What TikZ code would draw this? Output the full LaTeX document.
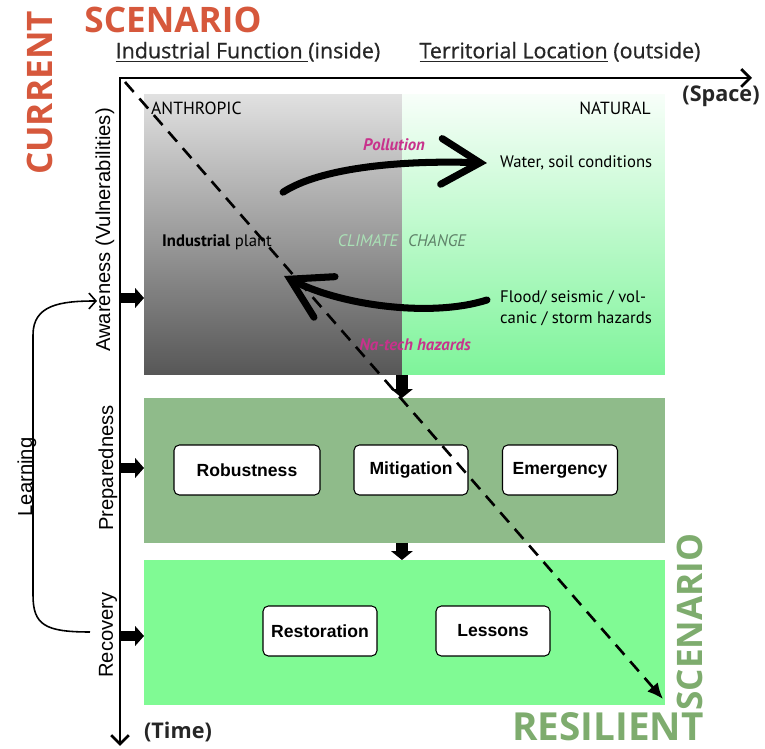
\documentclass[tikz,border=0pt]{standalone}
\usepackage{fontspec}
\setmainfont{Liberation Sans}
\newfontfamily\headfont{Open Sans}
\newfontfamily\semifont[FakeBold=0.7]{Open Sans}
\newfontfamily\innerfont{PT Sans}
\usepackage{xcolor}
\usetikzlibrary{arrows.meta}
\usetikzlibrary{positioning}
\definecolor{currentred}{RGB}{214,88,60}
\definecolor{resilgreen}{RGB}{126,172,110}
\definecolor{prepgreen}{RGB}{143,187,138}
\definecolor{recovgreen}{RGB}{128,250,148}
\definecolor{natgreen}{RGB}{126,244,154}
\definecolor{hazpink}{RGB}{200,50,140}
\definecolor{climlight}{RGB}{170,225,182}
\definecolor{climdark}{RGB}{95,130,105}

\begin{document}
\begin{tikzpicture}[x=0.02cm,y=-0.02cm,
  zone/.style={inner sep=0pt,outer sep=0pt,anchor=north west},
  box/.style={draw,rounded corners=3pt,fill=white,line width=0.6pt,
    minimum height=1cm,font=\bfseries\fontsize{10}{12}\selectfont},
  phase/.style={rotate=90,font=\fontsize{11.5}{13}\selectfont},
  inner/.style={font=\innerfont\fontsize{9.5}{12}\selectfont},
  head/.style={font=\headfont\bfseries\fontsize{20}{24}\selectfont},
  subhead/.style={font=\semifont\fontsize{12.2}{14}\selectfont,text=black!85},
  blockr/.style={line width=5.5pt,-{Triangle[length=5pt,width=11pt]}},
  blockd/.style={line width=7pt,-{Triangle[length=5pt,width=12pt]}},
  brush/.style={line width=4pt,line cap=round,
    -{Straight Barb[length=22pt,width=26pt,line cap=round]}}
]
\useasboundingbox (0,0) rectangle (765,749);

\node[zone,minimum width=5.16cm,minimum height=5.6cm,
  top color=black!12,bottom color=black!66] (anthro) at (144,95) {};
\node[zone,minimum width=5.26cm,minimum height=5.6cm,
  top color=natgreen!6,bottom color=natgreen] (natural) at (402,95) {};
\node[zone,minimum width=10.42cm,minimum height=2.9cm,fill=prepgreen] (prep) at (144,398) {};
\node[zone,minimum width=10.42cm,minimum height=2.9cm,fill=recovgreen] (recov) at (144,560) {};

\coordinate (origin) at (120,78);
\coordinate (spaceend) at (752,78);
\coordinate (timeend) at (120,746);
\draw[line width=1.6pt,{Straight Barb[length=5pt,width=10pt]}-{Straight Barb[length=5pt,width=10pt]}]
  (spaceend) -- (origin) -- (timeend);

\node[head,text=currentred,rotate=90] (current) at (40,93) {CURRENT};
\node[head,text=currentred] (scenario) at (173,20) {SCENARIO};
\node[subhead] (inside) at (248,52) {\underline{Industrial Function }(inside)};
\node[subhead] (outside) at (560,52) {\underline{Territorial Location} (outside)};
\node[subhead,font=\headfont\bfseries\fontsize{12.3}{14}\selectfont] (space) at (721,96) {(Space)};
\node[subhead,font=\headfont\bfseries\fontsize{12.3}{14}\selectfont] (time) at (178,732) {(Time)};
\node[head,text=resilgreen,font=\headfont\bfseries\fontsize{22}{26}\selectfont] (resilient) at (608,727) {RESILIENT};
\node[head,text=resilgreen,rotate=90] (scenario2) at (690,622) {SCENARIO};

\node[phase] (aware) at (105,230) {Awareness (Vulnerabilities)};
\node[phase] (prepared) at (108,468) {Preparedness};
\node[phase] (recovery) at (108,635) {Recovery};
\draw[blockr] (origin |- 0,298) -- (anthro.west |- 0,298);
\draw[blockr] (origin |- 0,468) -- (prep.west |- 0,468);
\draw[blockr] (origin |- 0,636) -- (recov.west |- 0,636);

\node[phase] (learning) at (27,477) {Learning};
\coordinate (learntop) at (97,301);
\coordinate (learnbot) at (90,632);
\draw[line width=0.9pt,-{Straight Barb[length=4pt,width=9pt]}]
  (learnbot) .. controls (45,632) and (33,625) .. (33,595) -- (33,335)
  .. controls (33,305) and (60,301) .. (learntop);

\node[inner,anchor=west,font=\innerfont\fontsize{10}{12}\selectfont] (anthropic) at (145,108) {ANTHROPIC};
\node[inner,anchor=east,font=\innerfont\fontsize{10}{12}\selectfont] (naturallbl) at (657,108) {NATURAL};
\node[inner,text=hazpink,font=\innerfont\bfseries\itshape\fontsize{9.5}{12}\selectfont] (pollution) at (394,145) {Pollution};
\node[inner,anchor=west] (water) at (494,163) {Water, soil conditions};
\node[inner] (plant) at (217,242) {\textbf{Industrial} plant};
\node[inner,text=climlight,font=\innerfont\itshape\fontsize{9.5}{12}\selectfont] (climate) at (368,241) {CLIMATE};
\node[inner,text=climdark,font=\innerfont\itshape\fontsize{9.5}{12}\selectfont] (change) at (437,241) {CHANGE};
\node[inner,anchor=west,align=left] (flood) at (494,308) {Flood/ seismic / vol-\\canic / storm hazards};
\node[inner,text=hazpink,font=\innerfont\bfseries\itshape\fontsize{9.5}{12}\selectfont] (natech) at (415,345) {Na-tech hazards};

\draw[brush] ([shift={(5,-36)}]plant.north east) .. controls (320,168) and (400,160) .. ([xshift=-4]water.west);
\draw[brush] ([shift={(-7,-8)}]flood.west) .. controls (430,318) and (340,305) .. ([shift={(6,34)}]plant.east);

\draw[blockd] (anthro.south east) -- (anthro.south east |- prep.north);
\draw[blockd] (prep.south -| anthro.east) -- (recov.north -| anthro.east);

\node[box,minimum width=2.92cm] (robust) at (247,470) {Robustness};
\node[box,minimum width=2.28cm] (mitig) at (411,470) {Mitigation};
\node[box,minimum width=2.3cm] (emerg) at (560,470) {Emergency};
\node[box,minimum width=2.28cm] (restor) at (320,631) {Restoration};
\node[box,minimum width=2.28cm] (lessons) at (493,631) {Lessons};

\coordinate (dashstart) at (125,82);
\coordinate (dashend) at (663,699);
\draw[line width=1.5pt,dash pattern=on 7.5pt off 5pt,-{Latex[length=9pt,width=8pt]}]
  (dashstart) -- (dashend);
\end{tikzpicture}
\end{document}
